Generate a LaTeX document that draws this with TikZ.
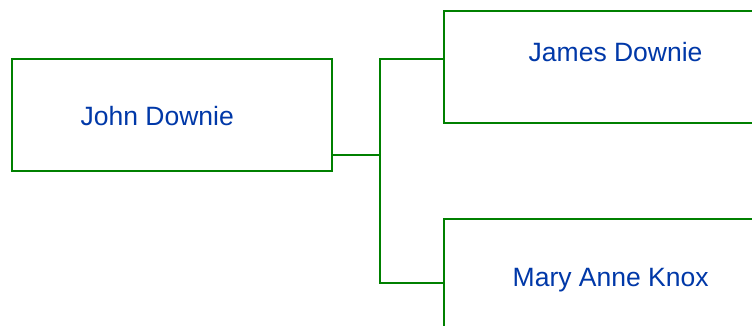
\documentclass[tikz,border=0pt]{standalone}
\usepackage{fontspec}
\setmainfont{Liberation Sans}
\definecolor{boxgreen}{RGB}{0,128,0}
\definecolor{textblue}{RGB}{0,56,168}
\begin{document}
\begin{tikzpicture}[x=1pt,y=-1pt,
  personbox/.style={draw=boxgreen, line width=2pt, rectangle, inner sep=0pt, outer sep=0pt, anchor=north west},
  personname/.style={text=textblue, font=\fontsize{26.5}{30}\selectfont, inner sep=0pt, anchor=base west},
  link/.style={draw=boxgreen, line width=2pt}]
\useasboundingbox (0,0) rectangle (752,326);
\fill[white] (0,0) rectangle (752,326);
\clip (0,0) rectangle (752,326);
\node[personbox, minimum width=320pt, minimum height=112pt] (john) at (12,59) {};
\node[personbox, minimum width=330pt, minimum height=112pt] (james) at (444,11) {};
\node[personbox, minimum width=330pt, minimum height=130pt] (mary) at (444,219) {};
\node[personname] (johnt) at (80.5,126) {John Downie};
\node[personname] (jamest) at (528.5,62) {James Downie};
\node[personname] (maryt) at (512.5,286) {Mary Anne Knox};
\coordinate (fork) at (380,155);
\coordinate (jin) at (444,59);
\coordinate (min) at (444,283);
\draw[link] (john.east |- fork) -- (fork);
\draw[link, line cap=rect] (fork |- jin) -- (fork |- min);
\draw[link] (fork |- jin) -- (jin);
\draw[link] (fork |- min) -- (min);
\end{tikzpicture}
\end{document}
